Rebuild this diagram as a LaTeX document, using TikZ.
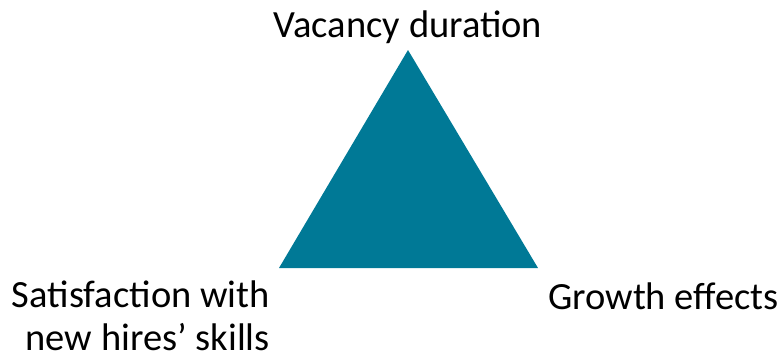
\documentclass[tikz,border=0pt]{standalone}
\usepackage{fontspec}
\setmainfont{Carlito}
\usetikzlibrary{positioning}
\definecolor{tealtri}{RGB}{0,121,150}

\begin{document}
\begin{tikzpicture}[x=1pt,y=-1pt,lbl/.style={inner sep=0pt,font=\fontsize{38.5}{43}\selectfont}]
    \useasboundingbox (0,0) rectangle (780,360);
    \coordinate (top) at (408,50);
    \coordinate (left) at (279,268);
    \coordinate (right) at (538,268);
    \fill[tealtri] (top) -- (left) -- (right) -- cycle;
    \node[lbl,anchor=base](vacancy) at (408,37){Vacancy duration};
    \node[lbl,anchor=base east,align=right](satisfaction) at (270,350){Satisfaction with\\new hires’ skills};
    \node[lbl,anchor=base west](growth) at (548,309){Growth effects};
\end{tikzpicture}
\end{document}
